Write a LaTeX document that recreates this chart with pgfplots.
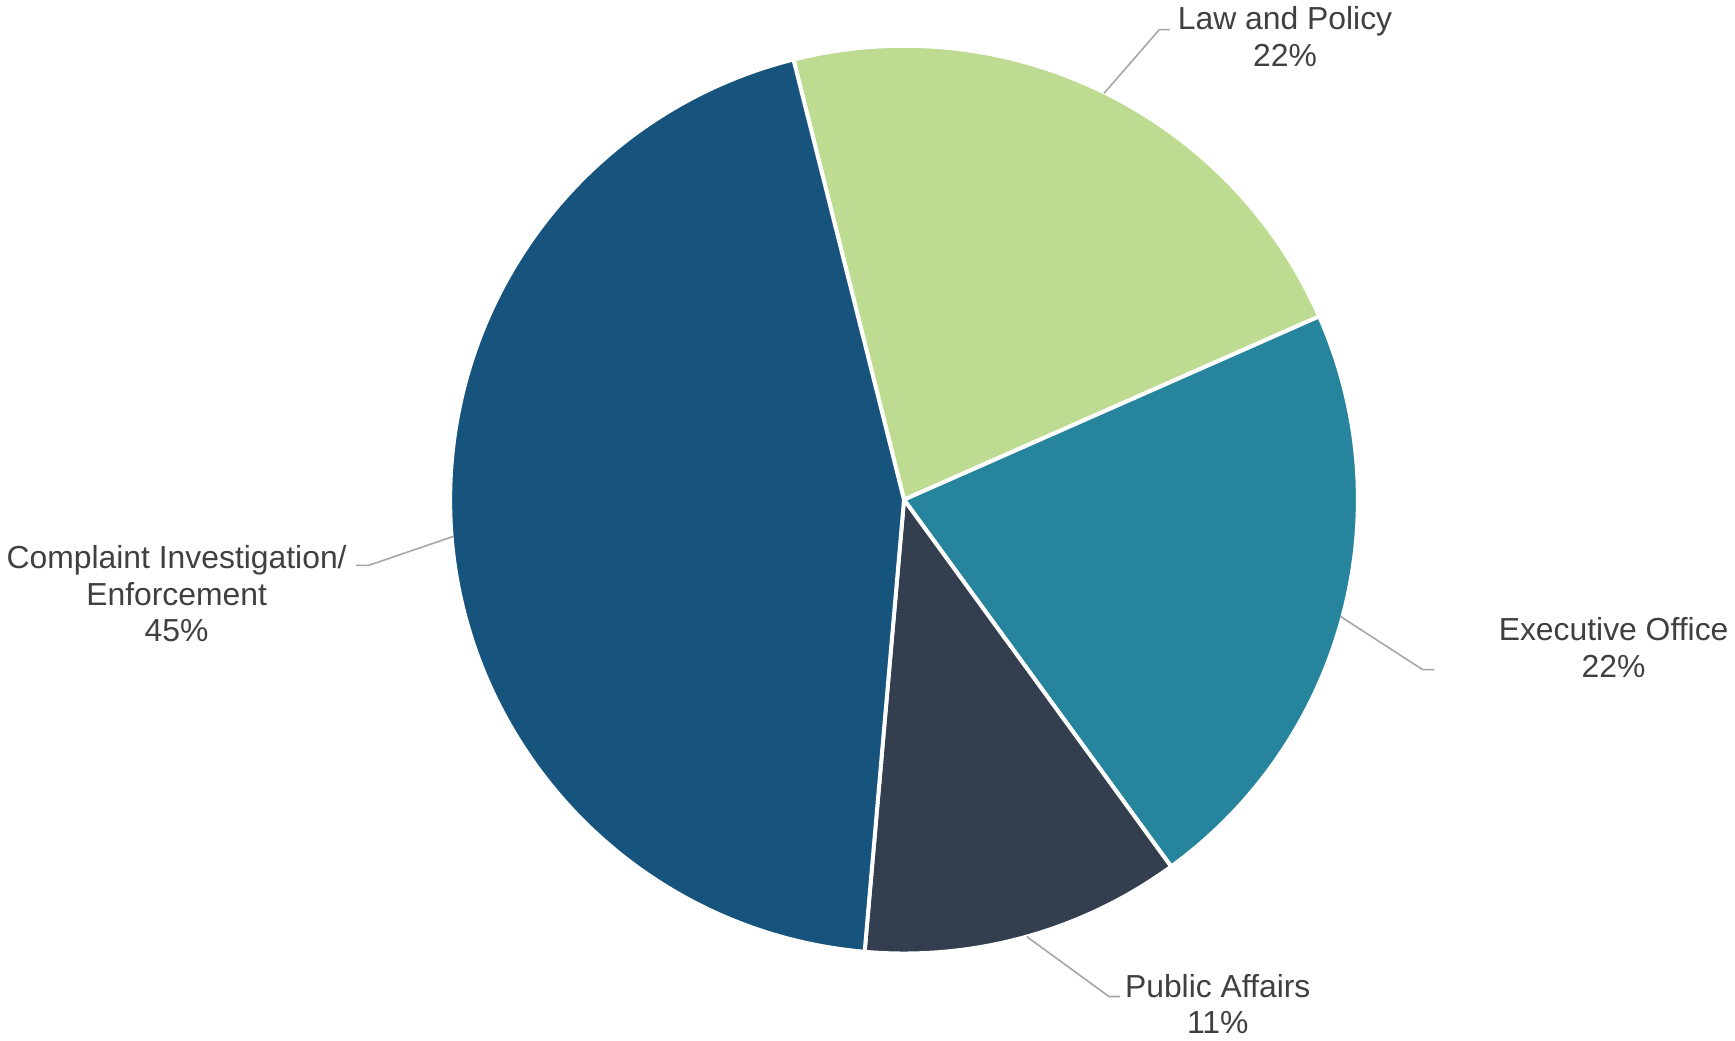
\documentclass[border=0pt]{standalone}
\usepackage{pgfplots}
\usepackage{pgfplotstable}
\pgfplotsset{compat=1.18}
\usepackage{fontspec}
\setmainfont{Liberation Sans}

\definecolor{cCom}{HTML}{16537D}
\definecolor{cLaw}{HTML}{BDDC91}
\definecolor{cExe}{HTML}{26849C}
\definecolor{cPub}{HTML}{333F4F}
\definecolor{labelgray}{HTML}{404040}
\definecolor{leadergray}{HTML}{A6A6A6}

% shares in percent, clockwise from the first slice
\pgfplotstableread{
name      value
Law       22.3
Executive 21.6
Public    11.4
Complaint 44.7
}\piedata

\begin{document}
\begin{tikzpicture}[
    wedge/.style={draw=white, line width=2pt, line join=round},
    leader/.style={draw=leadergray, line width=0.8pt},
    lab/.style={align=center, text=labelgray, font=\fontsize{16.1}{18.5}\selectfont},
]
\pgfplotstablegetelem{0}{value}\of\piedata \let\vA\pgfplotsretval
\pgfplotstablegetelem{1}{value}\of\piedata \let\vB\pgfplotsretval
\pgfplotstablegetelem{2}{value}\of\piedata \let\vC\pgfplotsretval
\pgfplotstablegetelem{3}{value}\of\piedata \let\vD\pgfplotsretval
\pgfmathsetmacro\aA{104.1}
\pgfmathsetmacro\aB{\aA-3.6*\vA}
\pgfmathsetmacro\aC{\aB-3.6*\vB}
\pgfmathsetmacro\aD{\aC-3.6*\vC}
\pgfmathsetmacro\aE{\aA-360}
\def\R{229.3pt}
\pgfkeys{/pgf/number format/assume math mode=true}
\begin{axis}[
    x=0.5pt, y=0.5pt,
    xmin=0, xmax=1735, ymin=0, ymax=1045,
    hide axis, clip=false,
]
% wedges
\fill[cLaw, wedge] (axis cs:906,546) -- ++(\aA:\R) arc[start angle=\aA, end angle=\aB, radius=\R] -- cycle;
\fill[cExe, wedge] (axis cs:906,546) -- ++(\aB:\R) arc[start angle=\aB, end angle=\aC, radius=\R] -- cycle;
\fill[cPub, wedge] (axis cs:906,546) -- ++(\aC:\R) arc[start angle=\aC, end angle=\aD, radius=\R] -- cycle;
\fill[cCom, wedge] (axis cs:906,546) -- ++(\aD:\R) arc[start angle=\aD, end angle=\aE, radius=\R] -- cycle;

% leader lines
\draw[leader] (axis cs:1108,956.5) -- (axis cs:1164,1021) -- (axis cs:1175,1021);
\draw[leader] (axis cs:1347,428) -- (axis cs:1430,374.3) -- (axis cs:1442,374.3);
\draw[leader] (axis cs:1030,104.5) -- (axis cs:1113,44) -- (axis cs:1124,44);
\draw[leader] (axis cs:451,509) -- (axis cs:365,479.6) -- (axis cs:352,479.6);

% labels
\node[lab] at (axis cs:1291,1014) {Law and Policy\\\pgfmathprintnumber[fixed,precision=0,assume math mode=true]{\vA}\%};
\node[lab] at (axis cs:1623,396.5) {Executive Office\\\pgfmathprintnumber[fixed,precision=0,assume math mode=true]{\vB}\%};
\node[lab] at (axis cs:1223,36.5) {Public Affairs\\\pgfmathprintnumber[fixed,precision=0,assume math mode=true]{\vC}\%};
\node[lab] at (axis cs:171,451) {Complaint Investigation/\\Enforcement\\\pgfmathprintnumber[fixed,precision=0,assume math mode=true]{\vD}\%};
\end{axis}
\end{tikzpicture}
\end{document}
